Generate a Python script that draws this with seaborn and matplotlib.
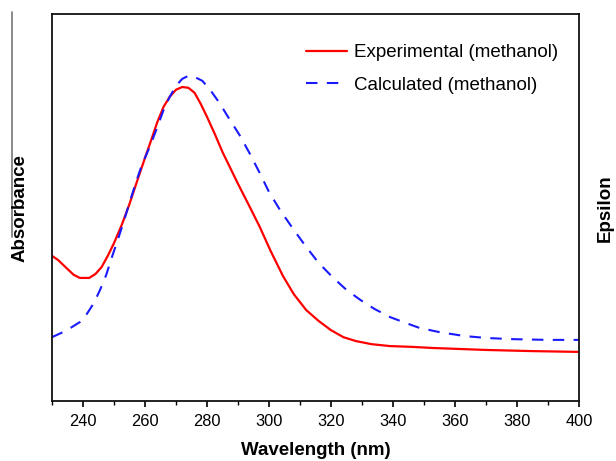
import pandas as pd
import matplotlib
matplotlib.use("Agg")
import matplotlib.pyplot as plt
from matplotlib.lines import Line2D
from matplotlib.ticker import MultipleLocator
import seaborn as sns

# Experimental spectrum (methanol), arbitrary absorbance units
exp_wl = [230, 232, 235, 237, 239, 242, 244, 246, 248, 250, 252.5, 255, 258, 260,
          262, 264, 266, 268, 270, 272, 274, 276, 278, 280, 282.5, 285, 287.5, 290,
          293.5, 297, 300.5, 304.5, 308, 312, 316, 320, 324, 328, 333, 339, 346,
          353, 370, 385, 400]
exp_abs = [0.375, 0.364, 0.341, 0.326, 0.318, 0.318, 0.328, 0.346, 0.375, 0.408,
           0.455, 0.509, 0.581, 0.628, 0.674, 0.721, 0.760, 0.786, 0.804, 0.811,
           0.809, 0.796, 0.767, 0.734, 0.690, 0.643, 0.602, 0.561, 0.506, 0.450,
           0.388, 0.323, 0.276, 0.235, 0.207, 0.183, 0.165, 0.155, 0.147, 0.142,
           0.140, 0.137, 0.132, 0.129, 0.127]

# Calculated spectrum (methanol)
calc_wl = [230, 233, 236, 239, 241, 243.5, 245.5, 247.5, 249, 251, 253, 255, 257,
           259, 261.5, 264, 266, 268, 270, 272, 274, 276, 278.5, 281, 284, 287,
           290.5, 294, 297, 300, 303.5, 308, 312, 316, 320.5, 325, 329.5, 334, 339,
           344, 348.5, 355, 363, 370, 378, 390, 400]
calc_abs = [0.165, 0.176, 0.189, 0.204, 0.222, 0.253, 0.287, 0.326, 0.364, 0.411,
            0.460, 0.512, 0.563, 0.610, 0.656, 0.708, 0.752, 0.786, 0.814, 0.832,
            0.840, 0.837, 0.827, 0.804, 0.770, 0.731, 0.687, 0.636, 0.589, 0.540,
            0.494, 0.442, 0.398, 0.357, 0.320, 0.287, 0.261, 0.238, 0.217, 0.202,
            0.189, 0.178, 0.168, 0.163, 0.160, 0.158, 0.158]

df_exp = pd.DataFrame({"wl": exp_wl, "abs": exp_abs})
df_calc = pd.DataFrame({"wl": calc_wl, "abs": calc_abs})

sns.set_style("ticks")
plt.rcParams["font.family"] = ["Liberation Sans", "DejaVu Sans"]
plt.rcParams["text.color"] = "black"
plt.rcParams["axes.labelcolor"] = "black"
plt.rcParams["xtick.color"] = "black"

fig = plt.figure(figsize=(6.16, 4.61), dpi=100)
ax = fig.add_axes([0.0844, 0.130, 0.8556, 0.840])

sns.lineplot(data=df_exp, x="wl", y="abs", ax=ax, color="#ff0000", lw=1.6,
             label="Experimental (methanol)", sort=False)
sns.lineplot(data=df_calc, x="wl", y="abs", ax=ax, color="#1a1aff", lw=1.5,
             linestyle=(0, (5.5, 4.5)), label="Calculated (methanol)", sort=False)

ax.set_xlim(230, 400)
ax.set_ylim(0, 1)
ax.set_xticks([240, 260, 280, 300, 320, 340, 360, 380, 400])
ax.xaxis.set_minor_locator(MultipleLocator(10))
ax.set_yticks([])
ax.tick_params(axis="x", which="major", direction="out", length=4.5, width=1.2,
               labelsize=11.8, pad=5)
ax.tick_params(axis="x", which="minor", direction="out", length=3, width=1.0)
for s in ax.spines.values():
    s.set_visible(True)
    s.set_linewidth(1.3)
    s.set_color("#111111")

ax.set_xlabel("Wavelength (nm)", fontsize=13.5, fontweight="bold", labelpad=9)
ax.set_ylabel("")
fig.text(0.033, 0.549, "Absorbance", rotation=90, fontsize=13.5, fontweight="bold",
         ha="center", va="center")
fig.text(0.983, 0.549, "Epsilon", rotation=90, fontsize=13.5, fontweight="bold",
         ha="center", va="center")

# stray vertical rule next to the y label
fig.add_artist(Line2D([12 / 616, 12 / 616], [1 - 12 / 461, 1 - 237 / 461],
                      transform=fig.transFigure, color="#777777", lw=1.2))

ax.legend(loc="upper right", frameon=False, fontsize=13.5, handlelength=2.2,
          handletextpad=0.37, labelspacing=0.8, bbox_to_anchor=(0.992, 0.965))

fig.savefig("out.png", dpi=100)
